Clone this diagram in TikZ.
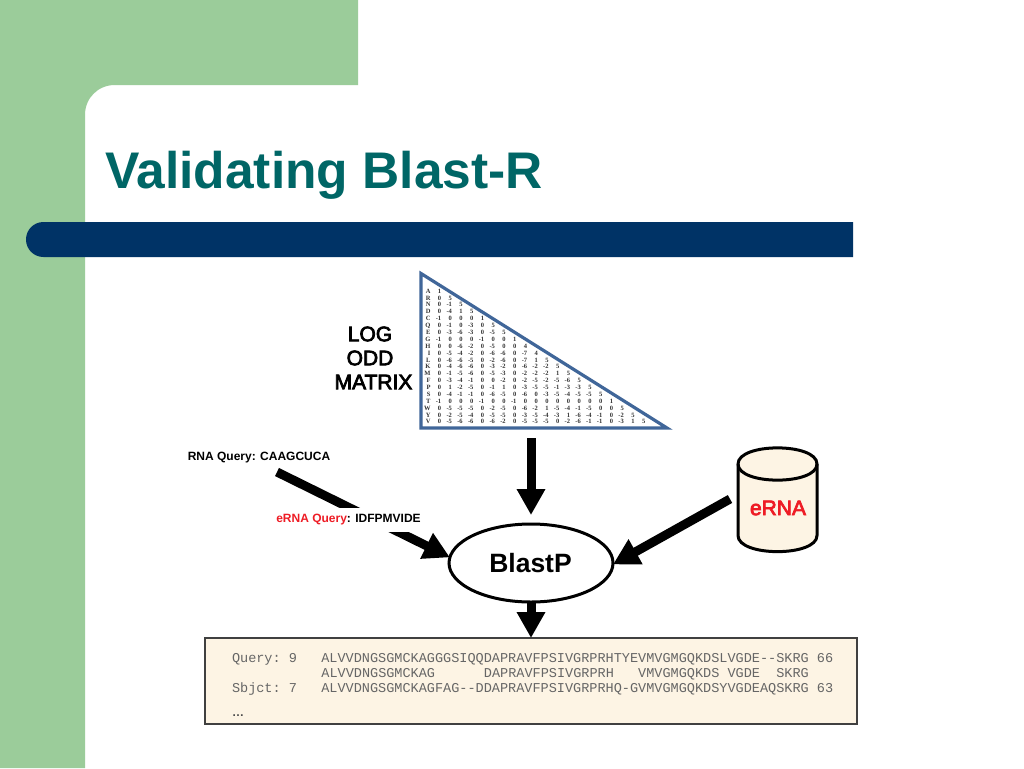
\documentclass[tikz,border=0pt]{standalone}
\usepackage{fontspec}
\usetikzlibrary{arrows.meta,shapes.geometric}
\setmainfont{Liberation Sans}
\newfontfamily\serfont{Liberation Serif}
\newfontfamily\monofam{Liberation Mono}
\newfontfamily\medfont[FakeBold=3.5]{Liberation Sans}
\newcommand{\szf}[1]{\fontsize{#1}{#1}\selectfont}
\definecolor{sidegreen}{HTML}{9BCC9A}
\definecolor{titleteal}{HTML}{006666}
\definecolor{barnavy}{HTML}{003366}
\definecolor{triblue}{HTML}{406699}
\definecolor{cream}{HTML}{FDF4E4}
\definecolor{monogrey}{HTML}{666666}
\definecolor{ernared}{HTML}{EE1C25}
\tikzset{
  txt/.style={inner sep=0pt,outer sep=0pt},
  bigarrow/.style={line width=9pt,black,-{Triangle[length=26pt,width=27pt]}},
  cell/.style={txt,anchor=base east,font=\serfont\bfseries\szf{6.5},text=black!80},
  seqline/.style={txt,anchor=base west,font=\monofam\szf{13.54},text=monogrey},
  labelbold/.style={txt,font=\bfseries\szf{12}},
  matlabel/.style={txt,font=\medfont\szf{21}},
}
\begin{document}
\begin{tikzpicture}[x=1pt,y=-1pt]
\useasboundingbox (0,0) rectangle (1024,768);
\fill[white] (0,0) rectangle (1024,768);
% slide decoration
\fill[sidegreen] (0,0) -- (358,0) -- (358,85) -- (115,85)
  .. controls (98,85) and (85,98) .. (85,115) -- (85,768) -- (0,768) -- cycle;
\fill[barnavy] (853,222) -- (853,257) -- (43.5,257)
  .. controls (33.5,257) and (26,249) .. (26,239.5)
  .. controls (26,230) and (33.5,222) .. (43.5,222) -- cycle;
\node[txt,anchor=base west,font=\bfseries\szf{51.5},text=titleteal] (title) at (105,188.5) {Validating Blast-R};
% matrix
\draw[triblue,line width=3.2pt,line join=miter] (421,273.5) -- (421,428) -- (667,428) -- cycle;
\foreach \row [count=\r] in {
 {A,1},{R,0,5},{N,0,-1,5},{D,0,-4,1,5},{C,-1,0,0,0,1},{Q,0,-1,0,-3,0,5},
 {E,0,-3,-6,-3,0,-5,5},{G,-1,0,0,0,-1,0,0,1},{H,0,0,-6,-2,0,-5,0,0,4},
 {I,0,-5,-4,-2,0,-6,-6,0,-7,4},{L,0,-6,-6,-5,0,-2,-6,0,-7,1,5},
 {K,0,-4,-6,-6,0,-3,-2,0,-6,-2,-2,5},{M,0,-1,-5,-6,0,-5,-3,0,-2,-2,-2,1,5},
 {F,0,-3,-4,-1,0,0,-2,0,-2,-5,-2,-5,-6,5},{P,0,1,-2,-5,0,-1,1,0,-3,-5,-5,-1,-3,-3,5},
 {S,0,-4,-1,-1,0,-6,-5,0,-6,0,-3,-5,-4,-5,-5,5},{T,-1,0,0,0,-1,0,0,-1,0,0,0,0,0,0,0,0,1},
 {W,0,-5,-5,-5,0,-2,-5,0,-6,-2,1,-5,-4,-1,-5,0,0,5},
 {Y,0,-2,-5,-4,0,-5,-5,0,-3,-5,-4,-3,1,-6,-4,-1,0,-2,5},
 {V,0,-5,-6,-6,0,-6,-2,0,-5,-5,-5,0,-2,-6,-1,-1,0,-3,1,5}}
{
  \foreach \v [count=\c] in \row {
    \node[cell] (m\r-\c) at ({430.5+(\c-1)*10.74},{293.2+(\r-1)*6.88}) {\v};
  }
}
\node[matlabel] (lbllog) at (370,334) {LOG};
\node[matlabel] (lblodd) at (370,358) {ODD};
\node[matlabel] (lblmat) at (373.5,382) {MATRIX};
% blast node
\node[ellipse,draw=black,line width=3pt,fill=white,minimum width=164pt,minimum height=78pt,inner sep=0pt,outer sep=0pt] (blastp) at (531,563) {};
\node[txt,font=\bfseries\szf{26.5}] (blasttext) at (530.5,563.5) {BlastP};
% result box
\node[rectangle,draw=black!75,line width=1.6pt,fill=cream,minimum width=652pt,minimum height=86pt,inner sep=0pt,outer sep=0pt] (result) at (531,681) {};
\node[seqline] (s1) at (232,662.5) {Query:~9~~~ALVVDNGSGMCKAGGGSIQQDAPRAVFPSIVGRPRHTYEVMVGMGQKDSLVGDE--SKRG~66};
\node[seqline] (s2) at (232,677.5) {~~~~~~~~~~~ALVVDNGSGMCKAG~~~~~~DAPRAVFPSIVGRPRH~~~VMVGMGQKDS~VGDE~~SKRG};
\node[seqline] (s3) at (232,692.5) {Sbjct:~7~~~ALVVDNGSGMCKAGFAG--DDAPRAVFPSIVGRPRHQ-GVMVGMGQKDSYVGDEAQSKRG~63};
\node[txt,anchor=base west,font=\bfseries\szf{12},text=black!70] (s4) at (232,716) {…};
% database
\draw[black,line width=3pt,fill=cream] (738,464) .. controls (738,442.5) and (817,442.5) .. (817,464)
  -- (817,535.5) .. controls (817,557) and (738,557) .. (738,535.5) -- cycle;
\draw[black,line width=3pt] (738,464) .. controls (738,485.5) and (817,485.5) .. (817,464);
\node[txt,font=\medfont\szf{21},text=ernared] (erna) at (778,508) {eRNA};
% connectors
\coordinate (trisrc) at (531,438);
\coordinate (dbsrc) at (730,499);
\coordinate (rnasrc) at (277,472);
\draw[bigarrow,shorten >=9pt] (trisrc) -- (blastp.north);
\draw[bigarrow] (blastp.south) -- (result.north);
\draw[bigarrow] (dbsrc) -- (blastp.-1);
\draw[bigarrow] (rnasrc) -- (blastp.176);
\node[labelbold] (rnaq) at (259,458) {RNA Query: CAAGCUCA};
\node[labelbold,fill=white,minimum height=24pt] (ernaq) at (348.5,520) {\textcolor{ernared}{eRNA Query}: IDFPMVIDE};
\end{tikzpicture}
\end{document}
